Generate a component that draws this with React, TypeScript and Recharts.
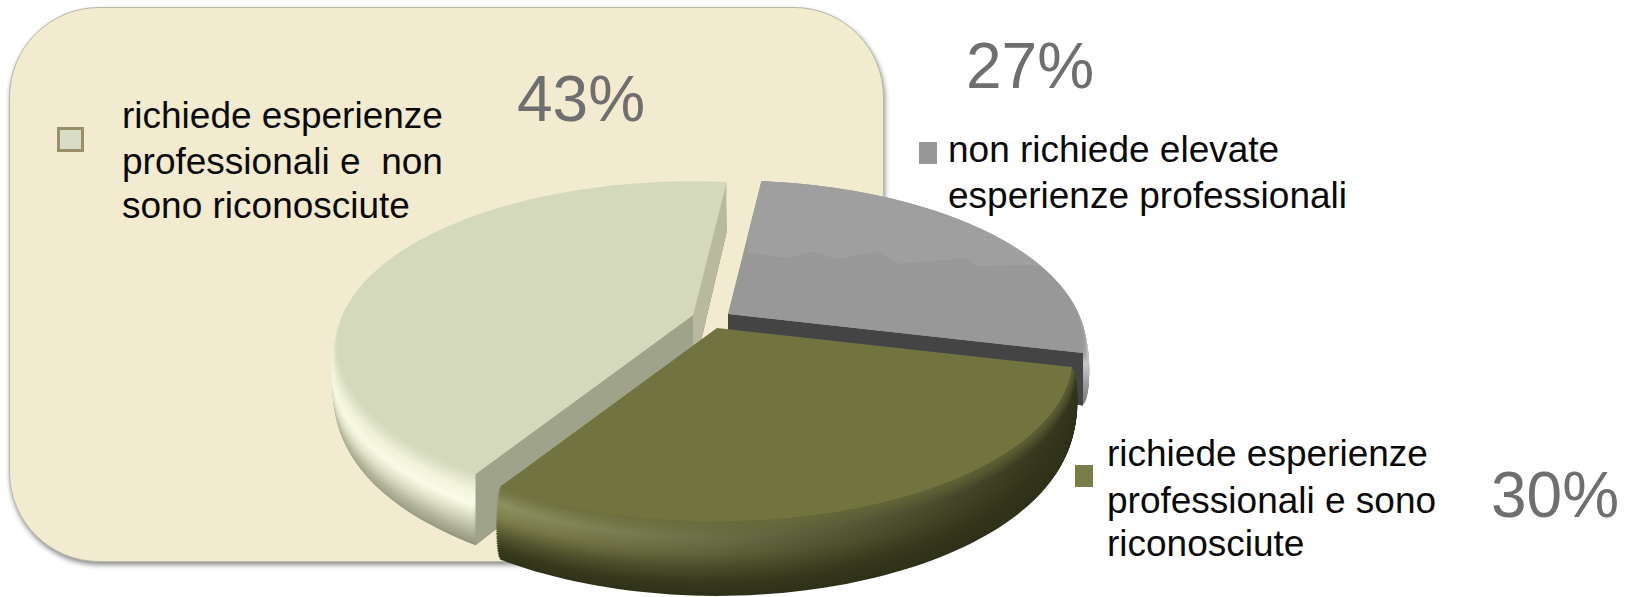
import { Pie, PieChart } from 'recharts';

const categories = [
  'richiede esperienze professionali e non sono riconosciute',
  'non richiede elevate esperienze professionali',
  'richiede esperienze professionali e sono riconosciute',
];
const shares = [43, 27, 30];
const shareLabels = ['43%', '27%', '30%'];
const legendLines = [
  ['richiede esperienze', 'professionali e  non', 'sono riconosciute'],
  ['non richiede elevate', 'esperienze professionali'],
  ['richiede esperienze', 'professionali e sono', 'riconosciute'],
];

const data = categories.map((name, i) => ({ name, value: shares[i] }));

// perspective of the disc plane
const TILT = 0.452;
const PERSPECTIVE = 0.185;
const LAYERS = 40;
const RADIUS = 355;

// the reflection line across the grey slice
const greyWave = '748,253 788,258 812,252 837,259 877,252 900,264 967,258 977,266 1031,265 1100,275 1100,170 740,170';

const sliceStyles = [
  {
    dx: -20,
    dy: -10,
    depth: 60,
    top: '#d5d9bc',
    startFace: '#9fa38a',
    endFace: '#b9b9a0',
    gradX: [331, 500],
    left: ['#d5d9bc', '#eef0d6', '#f6f8e2', '#e0e2c8', '#b9bba0', '#a3a58b'],
    right: ['#d5d9bc', '#f2f4dc', '#fcfde8', '#d4d6bb', '#aeb096', '#8e8f78'],
  },
  {
    dx: 15,
    dy: -11,
    depth: 50,
    top: '#989898',
    startFace: null,
    endFace: '#444444',
    gradX: [730, 1090],
    left: ['#999999', '#a5a5a5', '#9a9a9a', '#808080', '#666666', '#555555'],
    right: ['#999999', '#c8c8c8', '#b4b4b4', '#9a9a9a', '#8a8a8a', '#7c7c7c'],
  },
  {
    dx: 4,
    dy: 3,
    depth: 61,
    top: '#71743f',
    startFace: null,
    endFace: null,
    gradX: [500, 1090],
    left: ['#6f723e', '#8d9060', '#7b7d4b', '#565830', '#3a3c1f', '#2f3119'],
    right: ['#5c5f33', '#2f3119', '#2e3018', '#2e3018', '#2e3018', '#2e3018'],
  },
];

const hexToRgb = (hex: string) => [1, 3, 5].map((i) => parseInt(hex.slice(i, i + 2), 16));

const ramp = (colors: string[], t: number) => {
  const pos = t * (colors.length - 1);
  const i = Math.min(Math.floor(pos), colors.length - 2);
  const f = pos - i;
  const a = hexToRgb(colors[i]);
  const b = hexToRgb(colors[i + 1]);
  return `rgb(${a.map((c, k) => Math.round(c + (b[k] - c) * f)).join(',')})`;
};

function Slice3D(props: any) {
  const { cx, cy, outerRadius, startAngle, endAngle, payload } = props;
  const index = categories.indexOf(payload?.name ?? props.name);
  const style = sliceStyles[index];
  const ox = cx + style.dx;
  const oy = cy + style.dy;

  const project = (deg: number, scale: number, z: number) => {
    const rad = (deg * Math.PI) / 180;
    const u = Math.cos(rad) * scale;
    const v = -Math.sin(rad) * scale;
    const w = 1 - PERSPECTIVE * v;
    return [ox + (outerRadius * u) / w, oy + (outerRadius * TILT * v + z) / w];
  };

  const toPath = (pts: number[][]) => 'M' + pts.map((p) => `${p[0].toFixed(1)},${p[1].toFixed(1)}`).join('L') + 'Z';

  const sector = (scale: number, z: number) => {
    const steps = Math.ceil(Math.abs(startAngle - endAngle) / 1.5);
    const pts = [project(0, 0, z)];
    for (let s = 0; s <= steps; s++) {
      pts.push(project(startAngle + ((endAngle - startAngle) * s) / steps, scale, z));
    }
    return toPath(pts);
  };

  const face = (deg: number) =>
    toPath([project(0, 0, 0), project(deg, 0.985, 0), project(deg, 0.985, style.depth), project(0, 0, style.depth)]);

  const layers = [];
  for (let l = LAYERS; l >= 1; l--) {
    const t = l / LAYERS;
    const scale = 0.985 + 0.015 * Math.sqrt(Math.sin(Math.PI * Math.min(t * 1.02, 1)));
    layers.push({ id: `wall-${index}-${l}`, t, scale, z: style.depth * t });
  }

  return (
    <g>
      <defs>
        {layers.map((l) => (
          <linearGradient
            key={l.id}
            id={l.id}
            gradientUnits="userSpaceOnUse"
            x1={style.gradX[0]}
            x2={style.gradX[1]}
            y1={0}
            y2={0}
          >
            <stop offset="0" stopColor={ramp(style.left, l.t)} />
            <stop offset="1" stopColor={ramp(style.right, l.t)} />
          </linearGradient>
        ))}
        <clipPath id={`top-clip-${index}`}>
          <path d={sector(0.985, 0)} />
        </clipPath>
      </defs>
      {layers.map((l) => (
        <path key={l.id} d={sector(l.scale, l.z)} fill={`url(#${l.id})`} />
      ))}
      {style.startFace && <path d={face(startAngle)} fill={style.startFace} />}
      {style.endFace && <path d={face(endAngle)} fill={style.endFace} />}
      <path d={sector(0.985, 0)} fill={style.top} />
      {index === 1 && <polygon points={greyWave} fill="#9e9f9e" clipPath={`url(#top-clip-${index})`} />}
    </g>
  );
}

const font = '"Liberation Sans", Arial, sans-serif';

const Lines = ({ x, ys, lines }: { x: number; ys: number[]; lines: string[] }) => (
  <>
    {lines.map((line, i) => (
      <text key={i} x={x} y={ys[i]} fontFamily={font} fontSize={37} fill="#0a0a0a" xmlSpace="preserve">
        {line}
      </text>
    ))}
  </>
);

const Share = ({ x, y, label }: { x: number; y: number; label: string }) => (
  <text x={x} y={y} fontFamily={font} fontSize={64} fill="#6f6f6f">
    {label}
  </text>
);

export default function App() {
  return (
    <div style={{ position: 'absolute', left: 0, top: 0, width: 1625, height: 597, overflow: 'hidden', background: '#fff' }}>
      <div
        style={{
          position: 'absolute',
          left: 9,
          top: 7,
          width: 875,
          height: 555,
          borderRadius: 90,
          background: '#f2ebcf',
          border: '1px solid #b8b8a8',
          boxSizing: 'border-box',
          boxShadow: '1px 3px 5px rgba(0,0,0,0.45)',
        }}
      />
      <div style={{ position: 'absolute', left: 0, top: 0 }}>
        <PieChart width={1625} height={597} margin={{ top: 0, right: 0, bottom: 0, left: 0 }}>
          <Pie
            data={data}
            dataKey="value"
            nameKey="name"
            cx={713}
            cy={325}
            innerRadius={0}
            outerRadius={RADIUS}
            startAngle={-121.7}
            endAngle={-481.7}
            stroke="none"
            shape={Slice3D}
            isAnimationActive={false}
          />
        </PieChart>
      </div>
      <svg width={1625} height={597} style={{ position: 'absolute', left: 0, top: 0 }}>
        <rect x={58.5} y={128.5} width={24} height={22} fill="#d9ddc5" stroke="#9a8f6b" strokeWidth={3} />
        <rect x={919} y={142} width={18} height={22} fill="#979797" />
        <rect x={1075} y={465} width={18} height={22} fill="#7b7d48" />
        <Lines x={122} ys={[128, 174, 218]} lines={legendLines[0]} />
        <Lines x={948} ys={[162, 208]} lines={legendLines[1]} />
        <Lines x={1107} ys={[466, 513, 556]} lines={legendLines[2]} />
        <Share x={517} y={121} label={shareLabels[0]} />
        <Share x={966} y={88} label={shareLabels[1]} />
        <Share x={1491} y={517} label={shareLabels[2]} />
      </svg>
    </div>
  );
}
